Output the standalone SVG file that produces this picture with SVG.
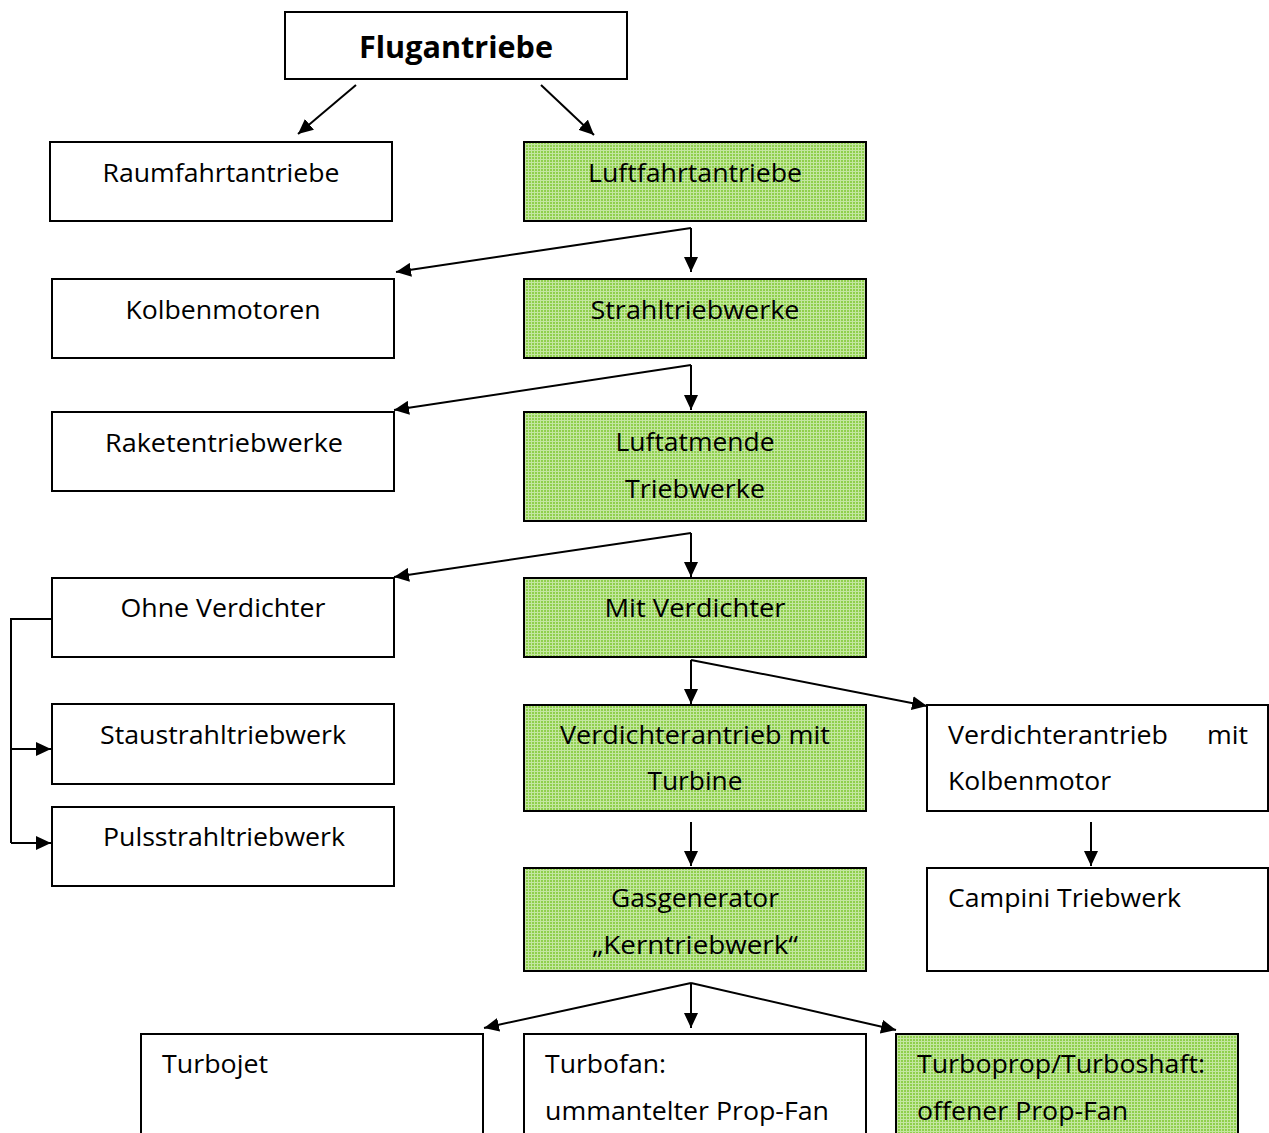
<svg xmlns="http://www.w3.org/2000/svg" width="1269" height="1133" viewBox="0 0 1269 1133">
<style>
.box{fill:#fff;stroke:#000;stroke-width:2}
.g{fill:url(#grid);stroke:#000;stroke-width:2}
.t{font-family:"Open Sans","Liberation Sans",sans-serif;font-size:25px;fill:#000}
.c{text-anchor:middle}
.b{font-weight:bold;font-size:30px}
.ln{fill:none;stroke:#000;stroke-width:2}
</style>
<defs>
<pattern id="grid" width="3" height="3" patternUnits="userSpaceOnUse">
<rect width="3" height="3" fill="#8fcf4c"/>
<rect width="3" height="1" fill="#c3e6a0"/>
<rect width="1" height="3" fill="#c3e6a0"/>
</pattern>
<marker id="ah" markerUnits="userSpaceOnUse" markerWidth="16" markerHeight="14" refX="15" refY="7" orient="auto">
<path d="M0,0 L15,7 L0,14 z" fill="#000"/>
</marker>
</defs>
<g id="connectors">
<line class="ln" x1="356" y1="85" x2="298" y2="134" marker-end="url(#ah)"/>
<line class="ln" x1="541" y1="85" x2="594" y2="135" marker-end="url(#ah)"/>
<polyline class="ln" points="691,228 396,272" marker-end="url(#ah)"/>
<line class="ln" x1="691" y1="228" x2="691" y2="272" marker-end="url(#ah)"/>
<polyline class="ln" points="691,365 394,410" marker-end="url(#ah)"/>
<line class="ln" x1="691" y1="365" x2="691" y2="410" marker-end="url(#ah)"/>
<polyline class="ln" points="691,533 394,577" marker-end="url(#ah)"/>
<line class="ln" x1="691" y1="533" x2="691" y2="577" marker-end="url(#ah)"/>
<polyline class="ln" points="52,619 11,619 11,843"/>
<line class="ln" x1="11" y1="749" x2="51" y2="749" marker-end="url(#ah)"/>
<line class="ln" x1="11" y1="843" x2="51" y2="843" marker-end="url(#ah)"/>
<line class="ln" x1="691" y1="660" x2="691" y2="704" marker-end="url(#ah)"/>
<line class="ln" x1="691" y1="660" x2="927" y2="706" marker-end="url(#ah)"/>
<line class="ln" x1="691" y1="822" x2="691" y2="866" marker-end="url(#ah)"/>
<line class="ln" x1="1091" y1="822" x2="1091" y2="866" marker-end="url(#ah)"/>
<line class="ln" x1="691" y1="983" x2="484" y2="1028" marker-end="url(#ah)"/>
<line class="ln" x1="691" y1="983" x2="691" y2="1028" marker-end="url(#ah)"/>
<line class="ln" x1="691" y1="983" x2="896" y2="1030" marker-end="url(#ah)"/>
</g>
<g id="flugantriebe"><rect class="box" x="285" y="12" width="342" height="67"/><text class="t c b" x="456" y="58" textLength="194" lengthAdjust="spacingAndGlyphs">Flugantriebe</text></g>
<g id="raumfahrt"><rect class="box" x="50" y="142" width="342" height="79"/><text class="t c" x="221" y="182" textLength="237" lengthAdjust="spacingAndGlyphs">Raumfahrtantriebe</text></g>
<g id="luftfahrt"><rect class="g" x="524" y="142" width="342" height="79"/><text class="t c" x="695" y="182" textLength="214" lengthAdjust="spacingAndGlyphs">Luftfahrtantriebe</text></g>
<g id="kolbenmotoren"><rect class="box" x="52" y="279" width="342" height="79"/><text class="t c" x="223" y="319" textLength="195" lengthAdjust="spacingAndGlyphs">Kolbenmotoren</text></g>
<g id="strahltriebwerke"><rect class="g" x="524" y="279" width="342" height="79"/><text class="t c" x="695" y="319" textLength="209" lengthAdjust="spacingAndGlyphs">Strahltriebwerke</text></g>
<g id="raketen"><rect class="box" x="52" y="412" width="342" height="79"/><text class="t c" x="224" y="452" textLength="238" lengthAdjust="spacingAndGlyphs">Raketentriebwerke</text></g>
<g id="luftatmende"><rect class="g" x="524" y="412" width="342" height="109"/><text class="t c" x="695" y="451" textLength="159" lengthAdjust="spacingAndGlyphs">Luftatmende</text><text class="t c" x="695" y="498" textLength="140" lengthAdjust="spacingAndGlyphs">Triebwerke</text></g>
<g id="ohne"><rect class="box" x="52" y="578" width="342" height="79"/><text class="t c" x="223" y="617" textLength="205" lengthAdjust="spacingAndGlyphs">Ohne Verdichter</text></g>
<g id="mit"><rect class="g" x="524" y="578" width="342" height="79"/><text class="t c" x="695" y="617" textLength="181" lengthAdjust="spacingAndGlyphs">Mit Verdichter</text></g>
<g id="staustrahl"><rect class="box" x="52" y="704" width="342" height="80"/><text class="t c" x="223" y="744" textLength="246" lengthAdjust="spacingAndGlyphs">Staustrahltriebwerk</text></g>
<g id="pulsstrahl"><rect class="box" x="52" y="807" width="342" height="79"/><text class="t c" x="224" y="846" textLength="242" lengthAdjust="spacingAndGlyphs">Pulsstrahltriebwerk</text></g>
<g id="turbine"><rect class="g" x="524" y="705" width="342" height="106"/><text class="t c" x="695" y="744" textLength="270" lengthAdjust="spacingAndGlyphs">Verdichterantrieb mit</text><text class="t c" x="695" y="790" textLength="95" lengthAdjust="spacingAndGlyphs">Turbine</text></g>
<g id="kolbenmotor"><rect class="box" x="927" y="705" width="341" height="106"/><text class="t" x="948" y="744" textLength="220" lengthAdjust="spacingAndGlyphs">Verdichterantrieb</text><text class="t" x="1207" y="744" textLength="41" lengthAdjust="spacingAndGlyphs">mit</text><text class="t" x="948" y="790" textLength="163" lengthAdjust="spacingAndGlyphs">Kolbenmotor</text></g>
<g id="gasgenerator"><rect class="g" x="524" y="868" width="342" height="103"/><text class="t c" x="695" y="907" textLength="168" lengthAdjust="spacingAndGlyphs">Gasgenerator</text><text class="t c" x="695" y="954" textLength="206" lengthAdjust="spacingAndGlyphs">„Kerntriebwerk“</text></g>
<g id="campini"><rect class="box" x="927" y="868" width="341" height="103"/><text class="t" x="948" y="907" textLength="233" lengthAdjust="spacingAndGlyphs">Campini Triebwerk</text></g>
<g id="turbojet"><rect class="box" x="141" y="1034" width="342" height="110"/><text class="t" x="162" y="1073" textLength="106" lengthAdjust="spacingAndGlyphs">Turbojet</text></g>
<g id="turbofan"><rect class="box" x="524" y="1034" width="342" height="110"/><text class="t" x="545" y="1073" textLength="121" lengthAdjust="spacingAndGlyphs">Turbofan:</text><text class="t" x="545" y="1120" textLength="284" lengthAdjust="spacingAndGlyphs">ummantelter Prop-Fan</text></g>
<g id="turboprop"><rect class="g" x="896" y="1034" width="342" height="110"/><text class="t" x="917" y="1073" textLength="288" lengthAdjust="spacingAndGlyphs">Turboprop/Turboshaft:</text><text class="t" x="917" y="1120" textLength="211" lengthAdjust="spacingAndGlyphs">offener Prop-Fan</text></g>
</svg>
